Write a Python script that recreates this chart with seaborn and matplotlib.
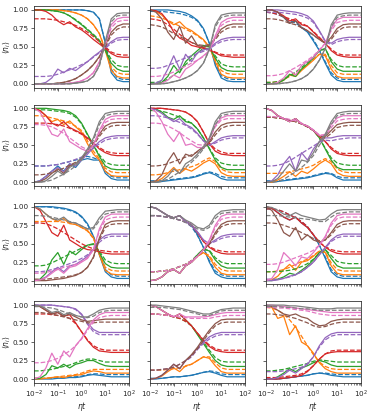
import matplotlib
matplotlib.use("Agg")
import matplotlib.pyplot as plt
import seaborn as sns

# eta*t sample points (log grid, 4 per decade)
ETA_T = [0.01, 0.0178, 0.0316, 0.0562, 0.1, 0.178, 0.316, 0.562, 1.0,
         1.78, 3.16, 5.62, 10.0, 17.8, 31.6, 56.2, 100.0]

# curve order in every panel: blue, orange, green, red, purple, brown, pink, gray
COLORS = sns.color_palette("tab10", 8)

# ---------- row 1 ----------
P11_SOLID = [
    [1, 1, 1, 1, 1, 1, 1, 1, 1, 0.99, 0.97, 0.88, 0.55, 0.15, 0.05, 0.03, 0.03],
    [1, 1, 1, 1, 1, 0.99, 0.98, 0.96, 0.93, 0.88, 0.8, 0.68, 0.45, 0.18, 0.1, 0.08, 0.08],
    [1, 1, 1, 0.99, 0.98, 0.96, 0.92, 0.86, 0.8, 0.73, 0.66, 0.58, 0.45, 0.28, 0.2, 0.17, 0.17],
    [1, 1, 0.98, 0.93, 0.85, 0.8, 0.84, 0.77, 0.73, 0.67, 0.6, 0.54, 0.48, 0.41, 0.37, 0.36, 0.36],
    [0, 0, 0.02, 0.08, 0.2, 0.15, 0.21, 0.18, 0.24, 0.3, 0.37, 0.43, 0.5, 0.57, 0.62, 0.63, 0.63],
    [0, 0, 0, 0, 0.01, 0.02, 0.04, 0.07, 0.12, 0.18, 0.26, 0.37, 0.52, 0.7, 0.78, 0.81, 0.81],
    [0, 0, 0, 0, 0, 0, 0.01, 0.02, 0.04, 0.08, 0.15, 0.3, 0.55, 0.8, 0.88, 0.9, 0.9],
    [0, 0, 0, 0, 0, 0, 0, 0.01, 0.02, 0.04, 0.1, 0.25, 0.58, 0.88, 0.95, 0.96, 0.96],
]
P11_DASHED = [
    [1, 1, 1, 1, 1, 1, 1, 1, 1, 0.99, 0.97, 0.88, 0.56, 0.2, 0.08, 0.06, 0.06],
    [1, 1, 1, 1, 1, 0.99, 0.98, 0.96, 0.93, 0.88, 0.8, 0.68, 0.47, 0.23, 0.15, 0.13, 0.13],
    [1, 1, 1, 0.99, 0.98, 0.96, 0.92, 0.87, 0.81, 0.74, 0.67, 0.59, 0.47, 0.33, 0.25, 0.23, 0.23],
    [0.88, 0.88, 0.88, 0.87, 0.86, 0.84, 0.82, 0.79, 0.75, 0.7, 0.64, 0.57, 0.5, 0.43, 0.4, 0.39, 0.39],
    [0.1, 0.1, 0.1, 0.11, 0.13, 0.16, 0.19, 0.22, 0.26, 0.3, 0.36, 0.42, 0.48, 0.55, 0.59, 0.6, 0.6],
    [0, 0, 0, 0, 0.01, 0.02, 0.04, 0.07, 0.12, 0.18, 0.26, 0.36, 0.5, 0.66, 0.74, 0.77, 0.77],
    [0, 0, 0, 0, 0, 0, 0.01, 0.02, 0.04, 0.08, 0.15, 0.29, 0.53, 0.76, 0.84, 0.86, 0.86],
    [0, 0, 0, 0, 0, 0, 0, 0.01, 0.02, 0.04, 0.1, 0.24, 0.55, 0.84, 0.92, 0.93, 0.93],
]

P12_SOLID = [
    [1, 1, 1, 1, 0.99, 0.98, 0.96, 0.92, 0.86, 0.75, 0.55, 0.25, 0.08, 0.04, 0.03, 0.03, 0.03],
    [1, 0.98, 0.93, 0.85, 0.8, 0.84, 0.76, 0.72, 0.66, 0.6, 0.5, 0.3, 0.13, 0.09, 0.08, 0.08, 0.08],
    [0, 0, 0.02, 0.1, 0.25, 0.15, 0.3, 0.38, 0.45, 0.52, 0.5, 0.35, 0.22, 0.18, 0.17, 0.17, 0.17],
    [1, 0.99, 0.95, 0.85, 0.7, 0.62, 0.58, 0.52, 0.5, 0.48, 0.46, 0.42, 0.38, 0.37, 0.36, 0.36, 0.36],
    [0, 0.01, 0.05, 0.2, 0.38, 0.2, 0.4, 0.3, 0.42, 0.46, 0.48, 0.55, 0.6, 0.62, 0.63, 0.63, 0.63],
    [1, 0.97, 0.88, 0.7, 0.6, 0.78, 0.55, 0.65, 0.52, 0.5, 0.52, 0.62, 0.74, 0.79, 0.81, 0.81, 0.81],
    [0, 0, 0.01, 0.05, 0.12, 0.08, 0.2, 0.25, 0.32, 0.38, 0.45, 0.65, 0.83, 0.88, 0.9, 0.9, 0.9],
    [0, 0, 0, 0.01, 0.03, 0.05, 0.08, 0.12, 0.18, 0.28, 0.47, 0.8, 0.93, 0.95, 0.96, 0.96, 0.96],
]
P12_DASHED = [
    [0.98, 0.98, 0.98, 0.97, 0.96, 0.95, 0.93, 0.9, 0.85, 0.74, 0.55, 0.28, 0.11, 0.07, 0.06, 0.06, 0.06],
    [0.92, 0.91, 0.89, 0.86, 0.82, 0.78, 0.74, 0.7, 0.65, 0.59, 0.5, 0.33, 0.18, 0.14, 0.13, 0.13, 0.13],
    [0.02, 0.02, 0.03, 0.06, 0.12, 0.18, 0.26, 0.34, 0.42, 0.48, 0.48, 0.38, 0.27, 0.24, 0.23, 0.23, 0.23],
    [0.88, 0.87, 0.85, 0.8, 0.74, 0.67, 0.61, 0.56, 0.52, 0.49, 0.47, 0.43, 0.4, 0.39, 0.39, 0.39, 0.39],
    [0.21, 0.21, 0.22, 0.25, 0.28, 0.32, 0.35, 0.38, 0.41, 0.44, 0.47, 0.53, 0.57, 0.59, 0.6, 0.6, 0.6],
    [0.8, 0.79, 0.77, 0.73, 0.68, 0.64, 0.6, 0.56, 0.53, 0.52, 0.53, 0.6, 0.7, 0.75, 0.77, 0.77, 0.77],
    [0.1, 0.1, 0.11, 0.13, 0.16, 0.2, 0.24, 0.28, 0.32, 0.37, 0.44, 0.62, 0.79, 0.84, 0.86, 0.86, 0.86],
    [0, 0, 0, 0.01, 0.03, 0.05, 0.08, 0.12, 0.18, 0.28, 0.46, 0.77, 0.9, 0.92, 0.93, 0.93, 0.93],
]

P13_SOLID = [
    [1, 1, 0.97, 0.9, 0.82, 0.85, 0.76, 0.7, 0.58, 0.45, 0.28, 0.12, 0.05, 0.03, 0.03, 0.03, 0.03],
    [0, 0, 0.01, 0.05, 0.12, 0.1, 0.18, 0.25, 0.32, 0.4, 0.38, 0.2, 0.1, 0.08, 0.08, 0.08, 0.08],
    [0, 0, 0.01, 0.05, 0.13, 0.1, 0.2, 0.27, 0.35, 0.45, 0.48, 0.3, 0.2, 0.17, 0.17, 0.17, 0.17],
    [1, 1, 0.97, 0.92, 0.85, 0.88, 0.8, 0.78, 0.7, 0.62, 0.55, 0.45, 0.39, 0.37, 0.36, 0.36, 0.36],
    [1, 1, 1, 0.99, 0.98, 0.97, 0.95, 0.92, 0.85, 0.72, 0.58, 0.55, 0.6, 0.62, 0.63, 0.63, 0.63],
    [1, 1, 0.97, 0.9, 0.82, 0.85, 0.76, 0.72, 0.66, 0.6, 0.55, 0.63, 0.75, 0.8, 0.81, 0.81, 0.81],
    [0, 0, 0.02, 0.08, 0.18, 0.12, 0.25, 0.3, 0.36, 0.45, 0.55, 0.75, 0.87, 0.9, 0.9, 0.9, 0.9],
    [0, 0, 0, 0.01, 0.02, 0.04, 0.07, 0.12, 0.2, 0.32, 0.48, 0.8, 0.93, 0.95, 0.96, 0.96, 0.96],
]
P13_DASHED = [
    [0.97, 0.96, 0.94, 0.9, 0.86, 0.82, 0.77, 0.71, 0.6, 0.46, 0.3, 0.15, 0.08, 0.06, 0.06, 0.06, 0.06],
    [0.02, 0.02, 0.03, 0.06, 0.1, 0.15, 0.2, 0.26, 0.33, 0.4, 0.4, 0.25, 0.15, 0.13, 0.13, 0.13, 0.13],
    [0.02, 0.02, 0.03, 0.06, 0.11, 0.16, 0.22, 0.29, 0.36, 0.45, 0.47, 0.33, 0.25, 0.23, 0.23, 0.23, 0.23],
    [0.97, 0.96, 0.94, 0.91, 0.88, 0.85, 0.82, 0.78, 0.71, 0.63, 0.55, 0.47, 0.41, 0.39, 0.39, 0.39, 0.39],
    [0.97, 0.97, 0.97, 0.96, 0.95, 0.94, 0.92, 0.89, 0.83, 0.71, 0.57, 0.53, 0.57, 0.59, 0.6, 0.6, 0.6],
    [0.88, 0.88, 0.87, 0.85, 0.82, 0.8, 0.76, 0.72, 0.66, 0.6, 0.55, 0.6, 0.71, 0.76, 0.77, 0.77, 0.77],
    [0.11, 0.11, 0.12, 0.14, 0.18, 0.22, 0.27, 0.32, 0.38, 0.46, 0.55, 0.72, 0.83, 0.85, 0.86, 0.86, 0.86],
    [0, 0, 0, 0.01, 0.02, 0.04, 0.07, 0.12, 0.2, 0.32, 0.47, 0.77, 0.9, 0.92, 0.93, 0.93, 0.93],
]

# ---------- row 2 ----------
P21_SOLID = [
    [0, 0.02, 0.08, 0.15, 0.22, 0.15, 0.25, 0.2, 0.3, 0.32, 0.3, 0.3, 0.12, 0.05, 0.03, 0.03, 0.03],
    [1, 0.97, 0.9, 0.82, 0.85, 0.78, 0.83, 0.75, 0.68, 0.52, 0.38, 0.3, 0.15, 0.09, 0.08, 0.08, 0.08],
    [1, 1, 1, 0.99, 0.98, 0.97, 0.95, 0.9, 0.8, 0.65, 0.5, 0.35, 0.22, 0.18, 0.17, 0.17, 0.17],
    [1, 0.97, 0.9, 0.8, 0.76, 0.82, 0.74, 0.7, 0.66, 0.6, 0.53, 0.45, 0.4, 0.37, 0.36, 0.36, 0.36],
    [0, 0.02, 0.08, 0.15, 0.2, 0.14, 0.25, 0.22, 0.3, 0.38, 0.47, 0.55, 0.6, 0.62, 0.63, 0.63, 0.63],
    [0, 0.01, 0.05, 0.12, 0.18, 0.12, 0.22, 0.25, 0.32, 0.42, 0.52, 0.65, 0.76, 0.8, 0.81, 0.81, 0.81],
    [1, 0.95, 0.8, 0.65, 0.62, 0.72, 0.55, 0.5, 0.45, 0.42, 0.5, 0.7, 0.85, 0.89, 0.9, 0.9, 0.9],
    [0, 0, 0.02, 0.08, 0.15, 0.1, 0.2, 0.25, 0.33, 0.45, 0.6, 0.82, 0.93, 0.95, 0.96, 0.96, 0.96],
]
P21_DASHED = [
    [0.22, 0.22, 0.22, 0.23, 0.24, 0.26, 0.28, 0.3, 0.33, 0.35, 0.33, 0.3, 0.15, 0.08, 0.06, 0.06, 0.06],
    [0.9, 0.9, 0.89, 0.87, 0.85, 0.83, 0.8, 0.76, 0.7, 0.56, 0.42, 0.32, 0.19, 0.14, 0.13, 0.13, 0.13],
    [0.98, 0.98, 0.98, 0.97, 0.96, 0.95, 0.93, 0.88, 0.79, 0.64, 0.5, 0.37, 0.27, 0.24, 0.23, 0.23, 0.23],
    [0.8, 0.8, 0.8, 0.79, 0.78, 0.76, 0.73, 0.69, 0.65, 0.59, 0.53, 0.47, 0.42, 0.4, 0.39, 0.39, 0.39],
    [0.22, 0.22, 0.22, 0.23, 0.24, 0.26, 0.28, 0.31, 0.34, 0.4, 0.46, 0.52, 0.57, 0.59, 0.6, 0.6, 0.6],
    [0.1, 0.1, 0.11, 0.13, 0.16, 0.19, 0.23, 0.27, 0.32, 0.41, 0.5, 0.62, 0.72, 0.76, 0.77, 0.77, 0.77],
    [0.78, 0.78, 0.77, 0.75, 0.71, 0.66, 0.6, 0.54, 0.48, 0.44, 0.5, 0.67, 0.81, 0.85, 0.86, 0.86, 0.86],
    [0, 0, 0.01, 0.03, 0.07, 0.11, 0.16, 0.22, 0.3, 0.42, 0.57, 0.78, 0.9, 0.92, 0.93, 0.93, 0.93],
]

P22_SOLID = [
    [0, 0, 0.01, 0.02, 0.03, 0.04, 0.05, 0.06, 0.08, 0.11, 0.13, 0.1, 0.05, 0.03, 0.03, 0.03, 0.03],
    [0, 0.01, 0.05, 0.12, 0.2, 0.12, 0.18, 0.15, 0.2, 0.26, 0.3, 0.25, 0.13, 0.09, 0.08, 0.08, 0.08],
    [1, 0.99, 0.95, 0.88, 0.85, 0.9, 0.82, 0.8, 0.72, 0.6, 0.45, 0.3, 0.2, 0.17, 0.17, 0.17, 0.17],
    [1, 1, 1, 0.99, 0.98, 0.97, 0.95, 0.9, 0.82, 0.68, 0.52, 0.42, 0.38, 0.37, 0.36, 0.36, 0.36],
    [1, 0.98, 0.93, 0.87, 0.82, 0.86, 0.78, 0.74, 0.66, 0.56, 0.5, 0.55, 0.6, 0.62, 0.63, 0.63, 0.63],
    [0, 0.02, 0.1, 0.28, 0.4, 0.25, 0.38, 0.35, 0.42, 0.48, 0.55, 0.68, 0.77, 0.8, 0.81, 0.81, 0.81],
    [1, 0.95, 0.82, 0.65, 0.55, 0.68, 0.5, 0.52, 0.47, 0.47, 0.58, 0.77, 0.87, 0.9, 0.9, 0.9, 0.9],
    [0, 0, 0.02, 0.08, 0.18, 0.12, 0.25, 0.3, 0.38, 0.48, 0.6, 0.82, 0.93, 0.95, 0.96, 0.96, 0.96],
]
P22_DASHED = [
    [0.02, 0.02, 0.02, 0.03, 0.04, 0.05, 0.06, 0.07, 0.09, 0.12, 0.14, 0.12, 0.08, 0.06, 0.06, 0.06, 0.06],
    [0.1, 0.1, 0.11, 0.13, 0.15, 0.17, 0.19, 0.21, 0.24, 0.29, 0.33, 0.28, 0.18, 0.14, 0.13, 0.13, 0.13],
    [0.97, 0.97, 0.96, 0.94, 0.91, 0.88, 0.84, 0.8, 0.72, 0.6, 0.46, 0.33, 0.26, 0.24, 0.23, 0.23, 0.23],
    [1, 1, 1, 0.99, 0.98, 0.97, 0.95, 0.9, 0.82, 0.68, 0.53, 0.45, 0.41, 0.39, 0.39, 0.39, 0.39],
    [0.9, 0.9, 0.89, 0.87, 0.84, 0.81, 0.77, 0.72, 0.65, 0.56, 0.5, 0.53, 0.57, 0.59, 0.6, 0.6, 0.6],
    [0.22, 0.22, 0.23, 0.25, 0.28, 0.31, 0.34, 0.37, 0.41, 0.46, 0.53, 0.64, 0.73, 0.76, 0.77, 0.77, 0.77],
    [0.8, 0.8, 0.79, 0.76, 0.72, 0.67, 0.61, 0.56, 0.51, 0.5, 0.58, 0.75, 0.84, 0.86, 0.86, 0.86, 0.86],
    [0, 0, 0.01, 0.04, 0.09, 0.14, 0.2, 0.27, 0.35, 0.45, 0.58, 0.78, 0.9, 0.92, 0.93, 0.93, 0.93],
]

P23_SOLID = [
    [0, 0, 0.01, 0.02, 0.03, 0.04, 0.05, 0.06, 0.08, 0.1, 0.12, 0.11, 0.06, 0.03, 0.03, 0.03, 0.03],
    [0, 0, 0.03, 0.08, 0.14, 0.08, 0.15, 0.12, 0.18, 0.25, 0.3, 0.25, 0.13, 0.09, 0.08, 0.08, 0.08],
    [1, 0.97, 0.9, 0.86, 0.82, 0.86, 0.79, 0.76, 0.7, 0.6, 0.45, 0.3, 0.2, 0.17, 0.17, 0.17, 0.17],
    [1, 0.97, 0.9, 0.86, 0.82, 0.86, 0.79, 0.76, 0.7, 0.62, 0.55, 0.45, 0.39, 0.37, 0.36, 0.36, 0.36],
    [0, 0.02, 0.1, 0.25, 0.35, 0.15, 0.4, 0.3, 0.45, 0.55, 0.6, 0.6, 0.62, 0.63, 0.63, 0.63, 0.63],
    [1, 0.97, 0.9, 0.86, 0.82, 0.86, 0.79, 0.76, 0.7, 0.63, 0.62, 0.7, 0.78, 0.8, 0.81, 0.81, 0.81],
    [1, 0.97, 0.9, 0.86, 0.82, 0.86, 0.79, 0.76, 0.7, 0.63, 0.65, 0.78, 0.87, 0.9, 0.9, 0.9, 0.9],
    [0, 0.01, 0.05, 0.15, 0.25, 0.15, 0.3, 0.28, 0.4, 0.55, 0.65, 0.82, 0.93, 0.95, 0.96, 0.96, 0.96],
]
P23_DASHED = [
    [0.02, 0.02, 0.02, 0.03, 0.04, 0.05, 0.06, 0.07, 0.09, 0.11, 0.13, 0.12, 0.08, 0.06, 0.06, 0.06, 0.06],
    [0.12, 0.12, 0.12, 0.13, 0.14, 0.16, 0.18, 0.2, 0.23, 0.28, 0.32, 0.28, 0.18, 0.14, 0.13, 0.13, 0.13],
    [0.88, 0.88, 0.87, 0.86, 0.84, 0.82, 0.79, 0.75, 0.7, 0.6, 0.46, 0.33, 0.26, 0.24, 0.23, 0.23, 0.23],
    [0.88, 0.88, 0.87, 0.86, 0.84, 0.82, 0.79, 0.75, 0.7, 0.62, 0.55, 0.47, 0.41, 0.39, 0.39, 0.39, 0.39],
    [0.22, 0.22, 0.23, 0.25, 0.29, 0.34, 0.39, 0.44, 0.49, 0.54, 0.57, 0.56, 0.58, 0.59, 0.6, 0.6, 0.6],
    [0.88, 0.88, 0.87, 0.86, 0.84, 0.82, 0.79, 0.75, 0.7, 0.63, 0.6, 0.66, 0.74, 0.76, 0.77, 0.77, 0.77],
    [0.89, 0.89, 0.88, 0.87, 0.85, 0.83, 0.8, 0.76, 0.71, 0.64, 0.63, 0.74, 0.83, 0.85, 0.86, 0.86, 0.86],
    [0, 0, 0.01, 0.04, 0.09, 0.14, 0.2, 0.27, 0.36, 0.5, 0.62, 0.78, 0.9, 0.92, 0.93, 0.93, 0.93],
]

# ---------- row 3 ----------
P31_SOLID = [
    [1, 1, 1, 1, 0.99, 0.98, 0.96, 0.93, 0.87, 0.77, 0.6, 0.35, 0.12, 0.05, 0.03, 0.03, 0.03],
    [1, 0.97, 0.9, 0.84, 0.8, 0.84, 0.77, 0.76, 0.72, 0.68, 0.58, 0.35, 0.14, 0.09, 0.08, 0.08, 0.08],
    [0, 0.02, 0.1, 0.28, 0.38, 0.22, 0.4, 0.35, 0.42, 0.48, 0.5, 0.38, 0.23, 0.18, 0.17, 0.17, 0.17],
    [1, 0.95, 0.8, 0.65, 0.6, 0.75, 0.55, 0.5, 0.45, 0.42, 0.41, 0.39, 0.37, 0.36, 0.36, 0.36, 0.36],
    [0, 0.01, 0.05, 0.12, 0.18, 0.12, 0.2, 0.22, 0.27, 0.33, 0.42, 0.55, 0.61, 0.63, 0.63, 0.63, 0.63],
    [0, 0, 0, 0.01, 0.02, 0.03, 0.05, 0.07, 0.11, 0.18, 0.32, 0.58, 0.76, 0.8, 0.81, 0.81, 0.81],
    [0, 0.01, 0.04, 0.1, 0.16, 0.1, 0.18, 0.2, 0.25, 0.3, 0.42, 0.7, 0.86, 0.9, 0.9, 0.9, 0.9],
    [1, 0.97, 0.9, 0.84, 0.82, 0.86, 0.79, 0.78, 0.74, 0.7, 0.72, 0.85, 0.94, 0.95, 0.96, 0.96, 0.96],
]
P31_DASHED = [
    [1, 1, 1, 0.99, 0.98, 0.97, 0.95, 0.92, 0.86, 0.76, 0.6, 0.37, 0.15, 0.08, 0.06, 0.06, 0.06],
    [0.8, 0.8, 0.8, 0.8, 0.8, 0.79, 0.78, 0.76, 0.72, 0.67, 0.57, 0.37, 0.18, 0.14, 0.13, 0.13, 0.13],
    [0.2, 0.2, 0.21, 0.24, 0.28, 0.32, 0.36, 0.4, 0.44, 0.48, 0.49, 0.4, 0.28, 0.24, 0.23, 0.23, 0.23],
    [0.78, 0.78, 0.77, 0.74, 0.7, 0.65, 0.6, 0.55, 0.5, 0.46, 0.43, 0.41, 0.4, 0.39, 0.39, 0.39, 0.39],
    [0.12, 0.12, 0.13, 0.15, 0.17, 0.2, 0.23, 0.26, 0.3, 0.35, 0.42, 0.52, 0.58, 0.6, 0.6, 0.6, 0.6],
    [0.02, 0.02, 0.02, 0.03, 0.04, 0.05, 0.06, 0.08, 0.11, 0.18, 0.31, 0.55, 0.72, 0.76, 0.77, 0.77, 0.77],
    [0.1, 0.1, 0.11, 0.13, 0.15, 0.18, 0.2, 0.22, 0.26, 0.31, 0.42, 0.67, 0.82, 0.85, 0.86, 0.86, 0.86],
    [0.88, 0.88, 0.87, 0.86, 0.84, 0.82, 0.8, 0.78, 0.74, 0.7, 0.7, 0.81, 0.9, 0.92, 0.93, 0.93, 0.93],
]

P32_SOLID = [
    [1, 0.98, 0.93, 0.88, 0.85, 0.88, 0.8, 0.75, 0.62, 0.45, 0.25, 0.1, 0.05, 0.03, 0.03, 0.03, 0.03],
    [0, 0.01, 0.05, 0.12, 0.15, 0.1, 0.2, 0.25, 0.33, 0.38, 0.32, 0.18, 0.1, 0.08, 0.08, 0.08, 0.08],
    [0, 0.01, 0.05, 0.12, 0.15, 0.1, 0.2, 0.25, 0.35, 0.43, 0.4, 0.28, 0.2, 0.17, 0.17, 0.17, 0.17],
    [1, 0.98, 0.93, 0.88, 0.85, 0.88, 0.8, 0.76, 0.65, 0.53, 0.45, 0.4, 0.37, 0.36, 0.36, 0.36, 0.36],
    [1, 0.98, 0.93, 0.88, 0.85, 0.88, 0.8, 0.76, 0.66, 0.55, 0.5, 0.55, 0.6, 0.62, 0.63, 0.63, 0.63],
    [0, 0.01, 0.05, 0.12, 0.15, 0.1, 0.2, 0.25, 0.33, 0.42, 0.5, 0.65, 0.76, 0.8, 0.81, 0.81, 0.81],
    [0, 0.01, 0.05, 0.12, 0.15, 0.1, 0.2, 0.25, 0.33, 0.42, 0.55, 0.75, 0.87, 0.9, 0.9, 0.9, 0.9],
    [1, 0.98, 0.93, 0.88, 0.85, 0.88, 0.82, 0.78, 0.72, 0.7, 0.75, 0.88, 0.94, 0.95, 0.96, 0.96, 0.96],
]
P32_DASHED = [
    [0.88, 0.88, 0.87, 0.86, 0.84, 0.82, 0.79, 0.73, 0.61, 0.45, 0.27, 0.13, 0.08, 0.06, 0.06, 0.06, 0.06],
    [0.12, 0.12, 0.13, 0.14, 0.16, 0.19, 0.22, 0.27, 0.33, 0.38, 0.34, 0.22, 0.15, 0.13, 0.13, 0.13, 0.13],
    [0.12, 0.12, 0.13, 0.14, 0.16, 0.19, 0.22, 0.27, 0.35, 0.42, 0.41, 0.31, 0.25, 0.23, 0.23, 0.23, 0.23],
    [0.88, 0.88, 0.87, 0.86, 0.84, 0.82, 0.79, 0.74, 0.65, 0.53, 0.46, 0.42, 0.4, 0.39, 0.39, 0.39, 0.39],
    [0.88, 0.88, 0.87, 0.86, 0.84, 0.82, 0.79, 0.74, 0.66, 0.55, 0.5, 0.53, 0.57, 0.59, 0.6, 0.6, 0.6],
    [0.12, 0.12, 0.13, 0.14, 0.16, 0.19, 0.22, 0.27, 0.33, 0.41, 0.49, 0.62, 0.73, 0.76, 0.77, 0.77, 0.77],
    [0.12, 0.12, 0.13, 0.14, 0.16, 0.19, 0.22, 0.27, 0.33, 0.41, 0.53, 0.72, 0.83, 0.85, 0.86, 0.86, 0.86],
    [0.88, 0.88, 0.87, 0.86, 0.84, 0.82, 0.79, 0.75, 0.7, 0.68, 0.72, 0.84, 0.91, 0.92, 0.93, 0.93, 0.93],
]

P33_SOLID = [
    [1, 0.98, 0.92, 0.86, 0.82, 0.86, 0.78, 0.72, 0.62, 0.48, 0.3, 0.12, 0.05, 0.03, 0.03, 0.03, 0.03],
    [0, 0.01, 0.06, 0.15, 0.22, 0.14, 0.25, 0.27, 0.33, 0.4, 0.38, 0.2, 0.1, 0.08, 0.08, 0.08, 0.08],
    [0, 0, 0.02, 0.05, 0.1, 0.08, 0.14, 0.2, 0.28, 0.38, 0.42, 0.3, 0.2, 0.17, 0.17, 0.17, 0.17],
    [1, 0.98, 0.92, 0.86, 0.82, 0.86, 0.78, 0.72, 0.62, 0.52, 0.45, 0.4, 0.37, 0.36, 0.36, 0.36, 0.36],
    [0, 0, 0.01, 0.03, 0.06, 0.08, 0.12, 0.18, 0.25, 0.35, 0.45, 0.55, 0.61, 0.63, 0.63, 0.63, 0.63],
    [1, 0.95, 0.82, 0.65, 0.6, 0.72, 0.55, 0.62, 0.55, 0.52, 0.55, 0.65, 0.76, 0.8, 0.81, 0.81, 0.81],
    [0, 0.03, 0.15, 0.38, 0.3, 0.2, 0.32, 0.3, 0.38, 0.48, 0.6, 0.78, 0.88, 0.9, 0.9, 0.9, 0.9],
    [1, 0.99, 0.95, 0.9, 0.88, 0.92, 0.88, 0.86, 0.84, 0.82, 0.83, 0.9, 0.95, 0.96, 0.96, 0.96, 0.96],
]
P33_DASHED = [
    [0.97, 0.97, 0.96, 0.93, 0.89, 0.85, 0.8, 0.73, 0.62, 0.48, 0.32, 0.15, 0.08, 0.06, 0.06, 0.06, 0.06],
    [0.12, 0.12, 0.13, 0.15, 0.18, 0.22, 0.26, 0.29, 0.34, 0.4, 0.39, 0.24, 0.15, 0.13, 0.13, 0.13, 0.13],
    [0.12, 0.12, 0.12, 0.13, 0.14, 0.16, 0.19, 0.23, 0.29, 0.37, 0.42, 0.34, 0.26, 0.24, 0.23, 0.23, 0.23],
    [0.97, 0.97, 0.96, 0.93, 0.89, 0.85, 0.8, 0.73, 0.62, 0.52, 0.46, 0.42, 0.4, 0.39, 0.39, 0.39, 0.39],
    [0.02, 0.02, 0.02, 0.03, 0.05, 0.08, 0.12, 0.18, 0.25, 0.35, 0.44, 0.53, 0.58, 0.6, 0.6, 0.6, 0.6],
    [0.78, 0.78, 0.77, 0.75, 0.72, 0.69, 0.65, 0.61, 0.57, 0.54, 0.55, 0.62, 0.72, 0.76, 0.77, 0.77, 0.77],
    [0.22, 0.22, 0.23, 0.25, 0.28, 0.31, 0.34, 0.37, 0.41, 0.48, 0.58, 0.75, 0.84, 0.86, 0.86, 0.86, 0.86],
    [0.88, 0.88, 0.88, 0.87, 0.86, 0.85, 0.84, 0.83, 0.82, 0.8, 0.8, 0.86, 0.91, 0.92, 0.93, 0.93, 0.93],
]

# ---------- row 4 ----------
P41_SOLID = [
    [0, 0, 0, 0, 0.01, 0.01, 0.02, 0.02, 0.03, 0.05, 0.06, 0.05, 0.04, 0.03, 0.03, 0.03, 0.03],
    [0, 0, 0.01, 0.02, 0.03, 0.02, 0.04, 0.05, 0.06, 0.09, 0.11, 0.1, 0.08, 0.08, 0.08, 0.08, 0.08],
    [0, 0.01, 0.06, 0.18, 0.15, 0.2, 0.15, 0.2, 0.22, 0.25, 0.25, 0.21, 0.18, 0.17, 0.17, 0.17, 0.17],
    [1, 0.98, 0.93, 0.88, 0.9, 0.85, 0.87, 0.76, 0.64, 0.52, 0.43, 0.38, 0.37, 0.36, 0.36, 0.36, 0.36],
    [1, 1, 1, 1, 0.99, 0.98, 0.97, 0.95, 0.88, 0.76, 0.67, 0.63, 0.63, 0.63, 0.63, 0.63, 0.63],
    [1, 0.98, 0.93, 0.88, 0.9, 0.85, 0.88, 0.84, 0.8, 0.78, 0.79, 0.8, 0.81, 0.81, 0.81, 0.81, 0.81],
    [0, 0.03, 0.15, 0.35, 0.2, 0.38, 0.3, 0.45, 0.55, 0.68, 0.8, 0.87, 0.9, 0.9, 0.9, 0.9, 0.9],
    [1, 0.99, 0.95, 0.9, 0.92, 0.87, 0.9, 0.86, 0.84, 0.84, 0.88, 0.93, 0.95, 0.96, 0.96, 0.96, 0.96],
]
P41_DASHED = [
    [0.01, 0.01, 0.01, 0.01, 0.02, 0.02, 0.03, 0.03, 0.04, 0.06, 0.07, 0.07, 0.06, 0.06, 0.06, 0.06, 0.06],
    [0.01, 0.01, 0.01, 0.02, 0.03, 0.04, 0.05, 0.06, 0.08, 0.11, 0.13, 0.13, 0.13, 0.13, 0.13, 0.13, 0.13],
    [0.11, 0.11, 0.12, 0.13, 0.15, 0.17, 0.19, 0.22, 0.25, 0.27, 0.27, 0.25, 0.23, 0.23, 0.23, 0.23, 0.23],
    [0.88, 0.88, 0.88, 0.87, 0.86, 0.85, 0.82, 0.75, 0.64, 0.53, 0.45, 0.41, 0.39, 0.39, 0.39, 0.39, 0.39],
    [1, 1, 1, 1, 0.99, 0.98, 0.97, 0.94, 0.87, 0.74, 0.64, 0.6, 0.6, 0.6, 0.6, 0.6, 0.6],
    [0.9, 0.9, 0.89, 0.88, 0.86, 0.84, 0.82, 0.8, 0.78, 0.76, 0.76, 0.77, 0.77, 0.77, 0.77, 0.77, 0.77],
    [0.22, 0.22, 0.23, 0.25, 0.28, 0.33, 0.38, 0.45, 0.54, 0.66, 0.77, 0.83, 0.85, 0.86, 0.86, 0.86, 0.86],
    [0.98, 0.98, 0.97, 0.96, 0.94, 0.91, 0.88, 0.86, 0.84, 0.83, 0.85, 0.9, 0.92, 0.93, 0.93, 0.93, 0.93],
]

P42_SOLID = [
    [0, 0, 0.01, 0.02, 0.03, 0.03, 0.04, 0.05, 0.07, 0.09, 0.1, 0.08, 0.05, 0.03, 0.03, 0.03, 0.03],
    [0, 0.01, 0.04, 0.1, 0.15, 0.1, 0.18, 0.2, 0.25, 0.3, 0.28, 0.18, 0.1, 0.08, 0.08, 0.08, 0.08],
    [1, 0.98, 0.93, 0.88, 0.84, 0.88, 0.8, 0.72, 0.6, 0.48, 0.36, 0.25, 0.19, 0.17, 0.17, 0.17, 0.17],
    [1, 0.98, 0.93, 0.88, 0.84, 0.88, 0.8, 0.72, 0.62, 0.52, 0.44, 0.39, 0.37, 0.36, 0.36, 0.36, 0.36],
    [0, 0.01, 0.05, 0.12, 0.2, 0.14, 0.25, 0.32, 0.42, 0.5, 0.57, 0.61, 0.63, 0.63, 0.63, 0.63, 0.63],
    [0, 0.01, 0.05, 0.12, 0.2, 0.14, 0.25, 0.33, 0.43, 0.55, 0.66, 0.75, 0.8, 0.81, 0.81, 0.81, 0.81],
    [1, 0.98, 0.93, 0.88, 0.84, 0.88, 0.84, 0.84, 0.84, 0.84, 0.85, 0.87, 0.89, 0.9, 0.9, 0.9, 0.9],
    [1, 1, 0.99, 0.98, 0.97, 0.96, 0.94, 0.92, 0.9, 0.88, 0.88, 0.91, 0.94, 0.95, 0.96, 0.96, 0.96],
]
P42_DASHED = [
    [0.01, 0.01, 0.01, 0.02, 0.03, 0.03, 0.04, 0.05, 0.07, 0.09, 0.11, 0.1, 0.07, 0.06, 0.06, 0.06, 0.06],
    [0.12, 0.12, 0.12, 0.13, 0.14, 0.15, 0.17, 0.2, 0.25, 0.3, 0.3, 0.22, 0.15, 0.13, 0.13, 0.13, 0.13],
    [0.88, 0.88, 0.87, 0.86, 0.84, 0.82, 0.78, 0.72, 0.61, 0.5, 0.39, 0.29, 0.24, 0.23, 0.23, 0.23, 0.23],
    [0.88, 0.88, 0.87, 0.86, 0.84, 0.82, 0.78, 0.72, 0.62, 0.53, 0.46, 0.41, 0.39, 0.39, 0.39, 0.39, 0.39],
    [0.12, 0.12, 0.13, 0.14, 0.16, 0.2, 0.24, 0.3, 0.4, 0.48, 0.54, 0.58, 0.6, 0.6, 0.6, 0.6, 0.6],
    [0.12, 0.12, 0.13, 0.14, 0.16, 0.2, 0.25, 0.31, 0.41, 0.52, 0.63, 0.72, 0.76, 0.77, 0.77, 0.77, 0.77],
    [0.88, 0.88, 0.87, 0.86, 0.85, 0.84, 0.83, 0.82, 0.82, 0.82, 0.82, 0.84, 0.85, 0.86, 0.86, 0.86, 0.86],
    [0.97, 0.97, 0.97, 0.96, 0.95, 0.94, 0.92, 0.9, 0.88, 0.86, 0.86, 0.89, 0.92, 0.93, 0.93, 0.93, 0.93],
]

P43_SOLID = [
    [0, 0, 0, 0.01, 0.02, 0.03, 0.04, 0.05, 0.07, 0.08, 0.07, 0.05, 0.04, 0.03, 0.03, 0.03, 0.03],
    [1, 0.97, 0.82, 0.85, 0.6, 0.72, 0.5, 0.45, 0.35, 0.22, 0.14, 0.1, 0.08, 0.08, 0.08, 0.08, 0.08],
    [0, 0, 0.03, 0.08, 0.14, 0.1, 0.15, 0.18, 0.22, 0.25, 0.23, 0.19, 0.17, 0.17, 0.17, 0.17, 0.17],
    [0, 0, 0, 0.01, 0.02, 0.03, 0.05, 0.1, 0.18, 0.27, 0.34, 0.36, 0.37, 0.37, 0.37, 0.37, 0.37],
    [0, 0, 0.02, 0.06, 0.12, 0.08, 0.14, 0.2, 0.3, 0.45, 0.56, 0.61, 0.63, 0.63, 0.63, 0.63, 0.63],
    [1, 0.98, 0.93, 0.88, 0.86, 0.88, 0.84, 0.82, 0.76, 0.72, 0.73, 0.78, 0.8, 0.81, 0.81, 0.81, 0.81],
    [1, 1, 0.99, 0.98, 0.97, 0.96, 0.95, 0.94, 0.93, 0.92, 0.91, 0.9, 0.9, 0.9, 0.9, 0.9, 0.9],
    [1, 1, 1, 1, 0.99, 0.99, 0.98, 0.97, 0.96, 0.95, 0.95, 0.95, 0.96, 0.96, 0.96, 0.96, 0.96],
]
P43_DASHED = [
    [0, 0, 0, 0.01, 0.02, 0.03, 0.04, 0.05, 0.07, 0.08, 0.08, 0.07, 0.06, 0.06, 0.06, 0.06, 0.06],
    [0.97, 0.96, 0.93, 0.88, 0.8, 0.7, 0.58, 0.45, 0.33, 0.23, 0.17, 0.14, 0.13, 0.13, 0.13, 0.13, 0.13],
    [0.11, 0.11, 0.12, 0.13, 0.15, 0.17, 0.19, 0.21, 0.24, 0.26, 0.25, 0.24, 0.23, 0.23, 0.23, 0.23, 0.23],
    [0.02, 0.02, 0.02, 0.03, 0.04, 0.05, 0.07, 0.11, 0.18, 0.27, 0.34, 0.38, 0.39, 0.39, 0.39, 0.39, 0.39],
    [0.1, 0.1, 0.1, 0.11, 0.12, 0.14, 0.16, 0.21, 0.3, 0.43, 0.53, 0.58, 0.6, 0.6, 0.6, 0.6, 0.6],
    [0.88, 0.88, 0.87, 0.86, 0.84, 0.82, 0.79, 0.76, 0.72, 0.7, 0.71, 0.74, 0.76, 0.77, 0.77, 0.77, 0.77],
    [0.97, 0.97, 0.96, 0.96, 0.95, 0.94, 0.93, 0.92, 0.9, 0.88, 0.87, 0.86, 0.86, 0.86, 0.86, 0.86, 0.86],
    [0.98, 0.98, 0.98, 0.97, 0.97, 0.96, 0.95, 0.95, 0.94, 0.93, 0.93, 0.93, 0.93, 0.93, 0.93, 0.93, 0.93],
]

PANELS = [
    [(P11_SOLID, P11_DASHED), (P12_SOLID, P12_DASHED), (P13_SOLID, P13_DASHED)],
    [(P21_SOLID, P21_DASHED), (P22_SOLID, P22_DASHED), (P23_SOLID, P23_DASHED)],
    [(P31_SOLID, P31_DASHED), (P32_SOLID, P32_DASHED), (P33_SOLID, P33_DASHED)],
    [(P41_SOLID, P41_DASHED), (P42_SOLID, P42_DASHED), (P43_SOLID, P43_DASHED)],
]

sns.set_theme(style="ticks", rc={
    "axes.linewidth": 0.6,
    "axes.edgecolor": "0.2",
    "xtick.major.size": 2.5, "ytick.major.size": 2.5,
    "xtick.minor.size": 1.5, "ytick.minor.size": 1.5,
    "xtick.major.width": 0.5, "ytick.major.width": 0.5,
    "xtick.minor.width": 0.4, "ytick.minor.width": 0.4,
    "xtick.labelsize": 5.2, "ytick.labelsize": 5.2,
    "axes.labelsize": 5.5,
})
plt.rcParams["font.family"] = ["DejaVu Sans"]

fig, axes = plt.subplots(4, 3, figsize=(3.74, 4.16), dpi=100, sharex=True, sharey=True)
fig.subplots_adjust(left=0.091, right=0.965, bottom=0.08, top=0.985, wspace=0.22, hspace=0.21)

for r in range(4):
    for c in range(3):
        ax = axes[r, c]
        solid, dashed = PANELS[r][c]
        for k in range(8):
            sns.lineplot(x=ETA_T, y=solid[k], ax=ax, color=COLORS[k], lw=0.9)
            sns.lineplot(x=ETA_T, y=dashed[k], ax=ax, color=COLORS[k], lw=0.9, linestyle="--")
        ax.set_xscale("log")
        ax.set_xlim(1e-2, 1e2)
        ax.set_ylim(-0.05, 1.05)
        ax.set_yticks([0, 0.25, 0.5, 0.75, 1.0])
        ax.set_yticklabels(["0.00", "0.25", "0.50", "0.75", "1.00"])
        ax.set_xlabel(r"$\eta t$" if r == 3 else "", labelpad=0)
        ax.set_ylabel(r"$\langle n_i \rangle$" if c == 0 else "", labelpad=0.5)
        ax.tick_params(pad=1.5)

fig.savefig("out.png", dpi=100)
